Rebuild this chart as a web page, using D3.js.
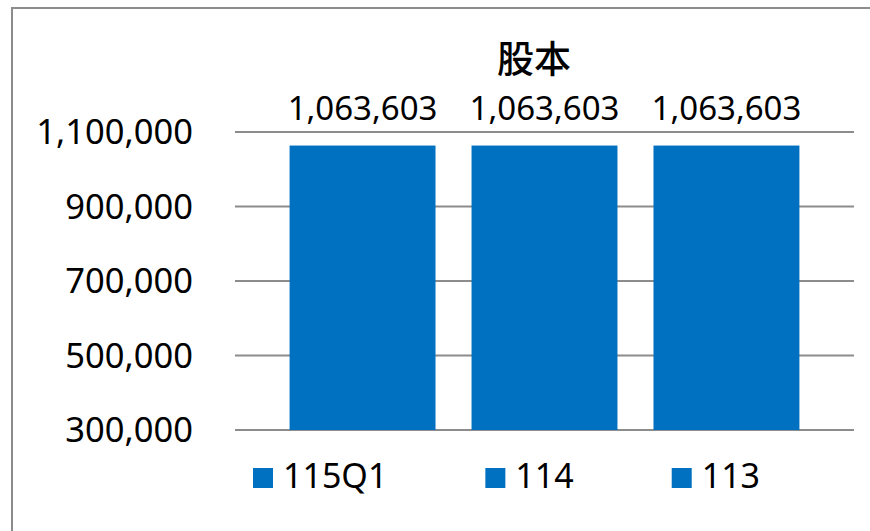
<!DOCTYPE html>
<meta charset="utf-8">
<style>

body {
  margin: 0;
  background: #fff;
}

text {
  font-family: "Noto Sans", "Noto Sans CJK TC", sans-serif;
  fill: #000;
}

.grid line {
  stroke: #8c8c8c;
  stroke-width: 2px;
}

.frame {
  fill: none;
  stroke: #8c8c8c;
  stroke-width: 2px;
}

</style>
<body>
<script src="https://d3js.org/d3.v7.min.js"></script>
<script>

var title = "股本";
var series = ["115Q1", "114", "113"];
var values = [1063603, 1063603, 1063603];
var yTicks = [300000, 500000, 700000, 900000, 1100000];

var width = 870,
    height = 531;

var svg = d3.select("body").append("svg")
    .attr("width", width)
    .attr("height", height);

// outer frame, its right and bottom edges sit outside the window
svg.append("rect")
    .attr("class", "frame")
    .attr("x", 12)
    .attr("y", 8)
    .attr("width", width + 20)
    .attr("height", height + 20);

var fmt = d3.format(",");

var x = d3.scaleBand()
    .domain(series)
    .range([235, 854])
    .paddingInner(0.198)
    .paddingOuter(0.3);

var y = d3.scaleLinear()
    .domain([300000, 1100000])
    .range([430, 132]);

var grid = svg.append("g")
    .attr("class", "grid");

grid.selectAll("line")
    .data(yTicks)
  .enter().append("line")
    .attr("x1", 235)
    .attr("x2", 854)
    .attr("y1", function(d) { return y(d); })
    .attr("y2", function(d) { return y(d); });

svg.append("g").selectAll("text")
    .data(yTicks)
  .enter().append("text")
    .attr("x", 193)
    .attr("y", function(d) { return y(d) + 12; })
    .attr("text-anchor", "end")
    .style("font-size", "34.5px")
    .text(fmt);

svg.append("g").selectAll("rect")
    .data(values)
  .enter().append("rect")
    .attr("x", function(d, i) { return x(series[i]); })
    .attr("y", function(d) { return y(d); })
    .attr("width", x.bandwidth())
    .attr("height", function(d) { return y(300000) - y(d); })
    .attr("fill", "#0070c0");

svg.append("g").selectAll("text")
    .data(values)
  .enter().append("text")
    .attr("x", function(d, i) { return x(series[i]) + x.bandwidth() / 2; })
    .attr("y", 120)
    .attr("text-anchor", "middle")
    .style("font-size", "33px")
    .text(fmt);

svg.append("text")
    .attr("x", 534)
    .attr("y", 73)
    .attr("text-anchor", "middle")
    .style("font-family", "'Noto Sans CJK TC', sans-serif")
    .style("font-weight", 500)
    .style("font-size", "37px")
    .text(title);

// legend, items laid out one after another like Excel does
var legend = svg.append("g");
var lx = 253;
series.forEach(function(s) {
  legend.append("rect")
      .attr("x", lx)
      .attr("y", 468)
      .attr("width", 20)
      .attr("height", 20)
      .attr("fill", "#0070c0");
  var t = legend.append("text")
      .attr("x", lx + 30)
      .attr("y", 488)
      .style("font-size", "34px")
      .text(s);
  lx = lx + 30 + t.node().getComputedTextLength() + 98;
});

</script>
